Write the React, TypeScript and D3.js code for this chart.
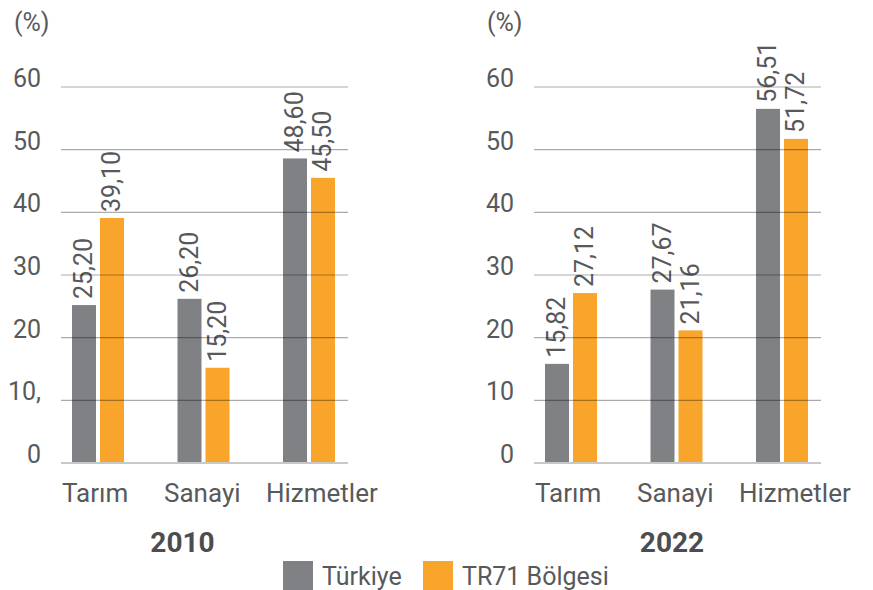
import React from "react";
import * as d3 from "d3";

const categories = ["Tarım", "Sanayi", "Hizmetler"];
const seriesNames = ["Türkiye", "TR71 Bölgesi"];
const years = ["2010", "2022"];
const turkiye2010 = [25.2, 26.2, 48.6];
const tr71_2010 = [39.1, 15.2, 45.5];
const turkiye2022 = [15.82, 27.67, 56.51];
const tr71_2022 = [27.12, 21.16, 51.72];
const yTicks = [0, 10, 20, 30, 40, 50, 60];
const yTickLabels2010 = ["0", "10,", "20", "30", "40", "50", "60"];
const yTickLabels2022 = ["0", "10", "20", "30", "40", "50", "60"];

const COLORS = ["#808184", "#f9a52b"];
const TEXT = "#58595b";
const FONT = "Roboto, 'Noto Sans', sans-serif";

const fmt = (v: number) => d3.format(".2f")(v).replace(".", ",");

const y = d3.scaleLinear().domain([0, 60]).range([463, 87]);

function Panel({
  dx,
  values,
  tickLabels,
  year,
  yearX,
}: {
  dx: number;
  values: number[][];
  tickLabels: string[];
  year: string;
  yearX: number;
}) {
  const x0 = d3
    .scaleBand<string>()
    .domain(categories)
    .range([72, 335])
    .paddingInner(1 - 52 / 105.5)
    .paddingOuter(0);
  const x1 = d3
    .scaleBand<string>()
    .domain(seriesNames)
    .range([0, x0.bandwidth()])
    .paddingInner(4 / 28)
    .paddingOuter(0);
  const labelX = d3.scalePoint<string>().domain(categories).range([62, 266]);
  const gx0 = 61;
  const gx1 = 348;

  return (
    <g transform={`translate(${dx},0)`}>
      <text x={14} y={31} fontSize={25} fill={TEXT} fontFamily={FONT}>
        (%)
      </text>
      {yTicks.map((t, i) => (
        <text
          key={"t" + t}
          x={41}
          y={y(t)}
          textAnchor="end"
          fontSize={25}
          fill={TEXT}
          fontFamily={FONT}
        >
          {tickLabels[i]}
        </text>
      ))}
      {categories.map((c, ci) =>
        seriesNames.map((s, si) => {
          const v = values[si][ci];
          const bx = (x0(c) as number) + (x1(s) as number);
          const bw = x1.bandwidth();
          return (
            <g key={c + s}>
              <rect x={bx} y={y(v)} width={bw} height={y(0) - y(v)} fill={COLORS[si]} />
              <text
                transform={`translate(${bx + bw / 2 + 8},${y(v) - 6}) rotate(-90)`}
                fontSize={25}
                fill={TEXT}
                fontFamily={FONT}
              >
                {fmt(v)}
              </text>
            </g>
          );
        })
      )}
      {yTicks
        .filter((t) => t > 0)
        .map((t) => (
          <line
            key={"g" + t}
            x1={gx0}
            x2={gx1}
            y1={y(t)}
            y2={y(t)}
            stroke="#000"
            strokeOpacity={0.33}
            strokeWidth={1.2}
          />
        ))}
      <line x1={gx0} x2={gx1} y1={y(0)} y2={y(0)} stroke="#c8c8c8" strokeWidth={2} />
      {categories.map((c) => (
        <text
          key={"c" + c}
          x={labelX(c)}
          y={502}
          fontSize={26}
          fill={TEXT}
          fontFamily={FONT}
        >
          {c}
        </text>
      ))}
      <text
        x={yearX}
        y={552}
        textAnchor="middle"
        fontSize={28}
        fontWeight={700}
        fill="#4d4d4f"
        fontFamily={FONT}
      >
        {year}
      </text>
    </g>
  );
}

export default function App() {
  return (
    <svg
      width={873}
      height={590}
      style={{ position: "absolute", left: 0, top: 0, display: "block", background: "#fff" }}
    >
      <Panel
        dx={0}
        values={[turkiye2010, tr71_2010]}
        tickLabels={yTickLabels2010}
        year={years[0]}
        yearX={182.5}
      />
      <Panel
        dx={473}
        values={[turkiye2022, tr71_2022]}
        tickLabels={yTickLabels2022}
        year={years[1]}
        yearX={672 - 473}
      />
      {seriesNames.map((s, i) => {
        const lx = i === 0 ? 283 : 423;
        return (
          <g key={s}>
            <rect x={lx} y={561} width={30} height={30} fill={COLORS[i]} />
            <text x={lx + 39} y={585} fontSize={25} fill={TEXT} fontFamily={FONT}>
              {s}
            </text>
          </g>
        );
      })}
    </svg>
  );
}
